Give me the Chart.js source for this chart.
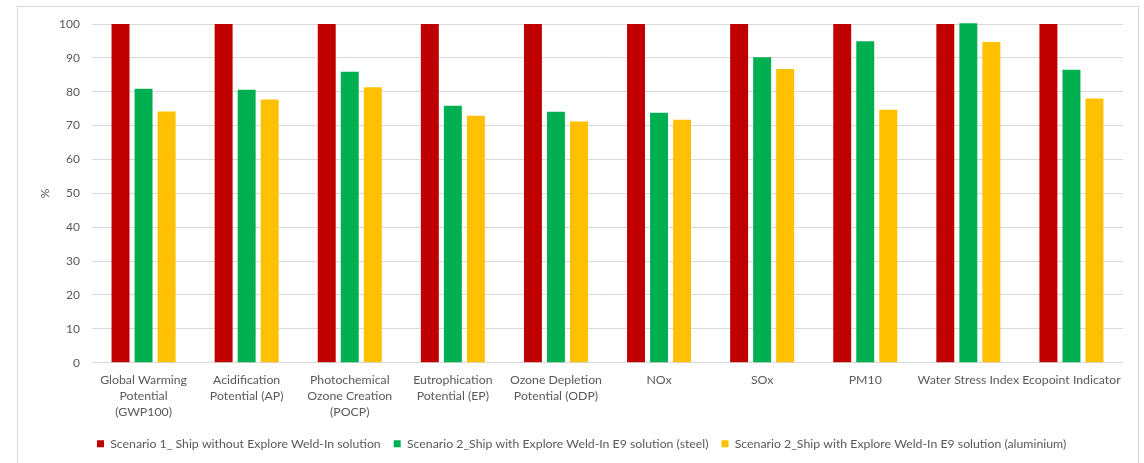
<!DOCTYPE html>
<html>
<head>
<meta charset="utf-8">
<script src="https://cdn.jsdelivr.net/npm/chart.js@4/dist/chart.umd.min.js"></script>
<style>
  html, body { margin: 0; padding: 0; background: #ffffff; overflow: hidden; }
  #frame {
    position: absolute; left: 17px; top: 6px; width: 1122px; height: 480px;
    border: 1px solid #d9d9d9; box-sizing: border-box;
  }
  #chart { position: absolute; left: 0; top: 0; }
</style>
</head>
<body>
<div id="frame"></div>
<canvas id="chart" width="1144" height="463"></canvas>
<script>
// Impact categories (multi-line axis labels)
const categories = [
  ["Global Warming", "Potential", "(GWP100)"],
  ["Acidification", "Potential (AP)"],
  ["Photochemical", "Ozone Creation", "(POCP)"],
  ["Eutrophication", "Potential (EP)"],
  ["Ozone Depletion", "Potential (ODP)"],
  "NOx",
  "SOx",
  "PM10",
  "Water Stress Index",
  "Ecopoint Indicator"
];

const seriesNames = [
  "Scenario 1_ Ship without Explore Weld-In solution",
  "Scenario 2_Ship with Explore Weld-In E9 solution (steel)",
  "Scenario 2_Ship with Explore Weld-In E9 solution (aluminium)"
];

// Relative impact, % of scenario 1
const scenario1 = [100, 100, 100, 100, 100, 100, 100, 100, 100, 100];
const scenario2Steel = [80.9, 80.6, 85.9, 75.9, 74.1, 73.8, 90.2, 94.9, 100.2, 86.5];
const scenario2Aluminium = [74.2, 77.7, 81.3, 72.9, 71.2, 71.7, 86.7, 74.7, 94.7, 78.0];

const yTicks = { min: 0, max: 100, step: 10 };

const textColor = "#595959";
const gridColor = "#d9d9d9";
const family = "Lato, 'Open Sans', sans-serif";

// Places the legend row at a fixed start position under the plot
const legendOffset = {
  id: "legendOffset",
  afterLayout(chart) {
    const lg = chart.legend;
    if (lg) {
      const w = lg.right - lg.left;
      lg.left = 84;
      lg.right = 84 + w;
    }
  }
};

new Chart(document.getElementById("chart"), {
  type: "bar",
  data: {
    labels: categories,
    datasets: [
      { label: seriesNames[0], data: scenario1, backgroundColor: "#C00000" },
      { label: seriesNames[1], data: scenario2Steel, backgroundColor: "#00B050", clip: false },
      { label: seriesNames[2], data: scenario2Aluminium, backgroundColor: "#FFC000" }
    ]
  },
  options: {
    responsive: false,
    animation: false,
    layout: { padding: { left: 30, right: 21, top: 24, bottom: 3 } },
    datasets: {
      bar: { categoryPercentage: 0.67, barPercentage: 0.78 }
    },
    scales: {
      x: {
        grid: { display: false },
        border: { display: false },
        ticks: {
          color: textColor,
          font: { family, size: 12.3, lineHeight: 1.3 },
          padding: 1,
          maxRotation: 0,
          autoSkip: false
        },
        afterFit(scale) { scale.height = 62; }
      },
      y: {
        min: yTicks.min,
        max: yTicks.max,
        grid: { color: gridColor, drawTicks: false, lineWidth: 1 },
        border: { display: false },
        ticks: {
          stepSize: yTicks.step,
          color: textColor,
          font: { family, size: 12 },
          padding: 12
        },
        title: {
          display: true,
          text: "%",
          color: textColor,
          font: { family, size: 12 },
          padding: { top: 8, bottom: 0 }
        },
        afterFit(scale) { scale.width = 62; }
      }
    },
    plugins: {
      tooltip: { enabled: false },
      legend: {
        position: "bottom",
        align: "start",
        labels: {
          color: textColor,
          font: { family, size: 12.3 },
          boxWidth: 7,
          boxHeight: 7,
          padding: 13
        }
      }
    }
  },
  plugins: [legendOffset]
});
</script>
</body>
</html>
